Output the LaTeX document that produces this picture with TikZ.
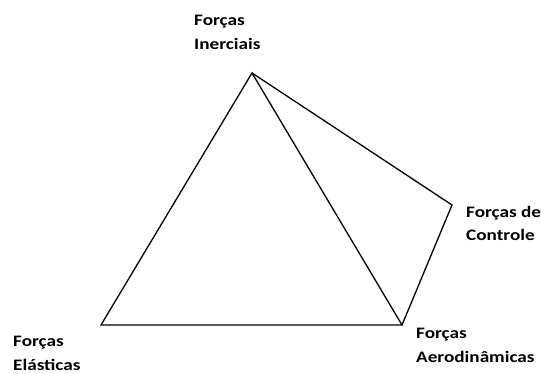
\documentclass[tikz,border=0pt]{standalone}
\usepackage{fontspec}
\setmainfont{Carlito}
\newfontfamily\lblfont{Carlito}[FakeStretch=1.2]
\usetikzlibrary{positioning}

\begin{document}
\begin{tikzpicture}[
    x=1pt, y=-1pt,
    edge/.style={line width=1.3pt, line join=miter},
    lbl/.style={font=\lblfont\fontsize{16}{23.5}\selectfont\bfseries, align=left,
                inner sep=0pt, anchor=north west}
  ]
    \useasboundingbox (0,0) rectangle (541,374);

    % corners
    \coordinate (in) at (252,73);
    \coordinate (ct) at (452,205);
    \coordinate (ae) at (402,325);
    \coordinate (el) at (101,325);

    % labels
    \node[lbl] (inL) at (194,15)  {Forças\\Inerciais};
    \node[lbl] (ctL) at (466,206) {Forças de\\Controle};
    \node[lbl] (aeL) at (416,328) {Forças\\Aerodinâmicas};
    \node[lbl] (elL) at (13,336)  {Forças\\Elásticas};

    \draw[edge] (in) -- (el) -- (ae) -- cycle;
    \draw[edge] (in) -- (ct) -- (ae);
  \end{tikzpicture}
\end{document}
